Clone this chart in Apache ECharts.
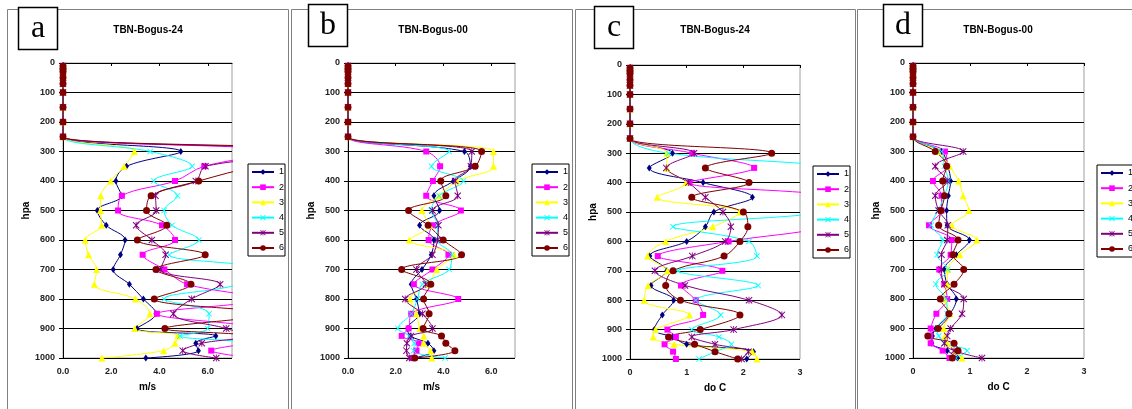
<!DOCTYPE html>
<html>
<head>
<meta charset="utf-8">
<script src="https://cdn.jsdelivr.net/npm/echarts@6/dist/echarts.min.js"></script>
<style>
html, body { margin: 0; padding: 0; background: #fff; }
#chart_main { width: 1132px; height: 409px; }
</style>
</head>
<body>
<div id="chart_main"></div>
<script>
// pressure levels (hpa), top to bottom
let levels = [10, 20, 30, 50, 70, 100, 150, 200, 250, 300, 350, 400, 450, 500, 550, 600, 650, 700, 750, 800, 850, 900, 925, 950, 975, 1000];
let series_names = ['1', '2', '3', '4', '5', '6'];

// a: TBN-Bogus-24, m/s
let a_s1 = [0, 0, 0, 0, 0, 0, 0, 0, 0, 4.88, 2.63, 2.19, 2.42, 1.42, 1.79, 2.57, 2.38, 2.08, 2.75, 3.33, 3.85, 3.07, 6.33, 5.5, 5.61, 3.43];
let a_s2 = [0, 0, 0, 0, 0, 0, 0, 0, 0, 9.0, 5.85, 4.64, 2.44, 2.28, 4.1, 4.64, 3.3, 4.2, 5.14, 8.2, 3.89, 8.5, 8.8, 7.6, 6.14, 7.9];
let a_s3 = [0, 0, 0, 0, 0, 0, 0, 0, 0, 2.96, 2.53, 1.97, 1.57, 1.55, 1.6, 0.92, 1.06, 1.39, 1.3, 3.0, 3.6, 2.97, 4.75, 4.64, 4.17, 1.61];
let a_s4 = [0, 0, 0, 0, 0, 0, 0, 0, 0, 3.61, 5.35, 3.76, 4.74, 4.19, 4.52, 5.63, 4.4, 8.0, 7.3, 4.19, 6.05, 5.99, 4.85, 8.0, 8.5, 8.0];
let a_s5 = [0, 0, 0, 0, 0, 0, 0, 0, 0, 11.0, 5.9, 5.5, 3.83, 3.86, 3.03, 3.68, 4.25, 4.03, 6.51, 5.33, 4.57, 6.76, 7.6, 5.75, 4.96, 6.35];
let a_s6 = [0, 0, 0, 0, 0, 0, 0, 0, 0, 11.5, 8.0, 5.62, 3.65, 3.46, 4.3, 3.08, 5.89, 3.85, 5.3, 3.78, 8.5, 4.22, 8.0, 9.0, 8.5, 9.0];

// b: TBN-Bogus-00, m/s
let b_s1 = [0, 0, 0, 0, 0, 0, 0, 0, 0, 4.88, 5.13, 4.42, 3.6, 3.84, 3.0, 3.6, 3.49, 3.1, 2.65, 2.87, 2.98, 2.5, 2.61, 3.35, 3.6, 2.76];
let b_s2 = [0, 0, 0, 0, 0, 0, 0, 0, 0, 3.28, 3.86, 3.56, 3.28, 4.73, 3.57, 3.38, 4.21, 3.54, 2.76, 4.62, 2.65, 2.54, 2.25, 2.96, 2.87, 2.68];
let b_s3 = [0, 0, 0, 0, 0, 0, 0, 0, 0, 6.1, 6.1, 4.56, 3.82, 3.1, 3.43, 2.57, 4.45, 3.72, 3.38, 2.6, 2.87, 3.01, 3.18, 3.17, 3.47, 3.51];
let b_s4 = [0, 0, 0, 0, 0, 0, 0, 0, 0, 4.24, 3.5, 4.84, 3.82, 3.49, 3.75, 3.74, 4.35, 4.24, 3.12, 2.91, 2.65, 2.09, 2.57, 2.78, 2.75, 4.07];
let b_s5 = [0, 0, 0, 0, 0, 0, 0, 0, 0, 5.19, 5.15, 4.49, 4.6, 3.54, 3.79, 3.75, 3.54, 2.87, 3.26, 2.4, 3.12, 3.54, 2.64, 2.47, 2.45, 2.57];
let b_s6 = [0, 0, 0, 0, 0, 0, 0, 0, 0, 5.6, 5.33, 3.89, 4.1, 2.54, 3.36, 3.99, 4.76, 2.25, 3.47, 3.17, 3.4, 3.15, 3.92, 4.1, 4.48, 2.8];

// c: TBN-Bogus-24, do C
let c_s1 = [0, 0, 0, 0, 0, 0, 0, 0, 0, 0.75, 0.34, 1.29, 2.16, 1.48, 1.33, 1.0, 0.35, 0.65, 0.37, 0.77, 0.57, 0.43, 0.75, 1.0, 2.18, 2.06];
let c_s2 = [0, 0, 0, 0, 0, 0, 0, 0, 0, 1.1, 2.19, 1.05, 3.8, 4.0, 3.5, 1.74, 0.49, 1.63, 0.9, 1.16, 1.29, 0.66, 0.81, 0.61, 0.76, 0.81];
let c_s3 = [0, 0, 0, 0, 0, 0, 0, 0, 0, 0.65, 0.65, 0.99, 0.48, 1.94, 1.46, 0.63, 0.31, 0.66, 0.32, 0.25, 1.05, 0.45, 0.41, 0.78, 2.16, 2.24];
let c_s4 = [0, 0, 0, 0, 0, 0, 0, 0, 0, 0.68, 3.8, 4.5, 4.2, 3.5, 0.76, 2.1, 2.24, 0.85, 2.26, 1.16, 1.6, 1.09, 1.57, 1.79, 1.5, 1.22];
let c_s5 = [0, 0, 0, 0, 0, 0, 0, 0, 0, 1.13, 0.64, 1.03, 1.33, 1.64, 1.78, 1.68, 1.1, 0.44, 0.97, 2.1, 2.68, 1.83, 1.09, 1.5, 2.09, 1.97];
let c_s6 = [0, 0, 0, 0, 0, 0, 0, 0, 0, 2.5, 1.33, 2.1, 1.09, 2.0, 2.08, 1.94, 1.66, 0.76, 0.63, 0.89, 1.94, 1.24, 0.68, 1.14, 1.5, 1.9];

// d: TBN-Bogus-00, do C
let d_s1 = [0, 0, 0, 0, 0, 0, 0, 0, 0, 0.5, 0.61, 0.66, 0.62, 0.59, 0.6, 0.99, 0.76, 0.55, 0.6, 0.76, 0.65, 0.4, 0.34, 0.33, 0.6, 0.78];
let d_s2 = [0, 0, 0, 0, 0, 0, 0, 0, 0, 0.56, 0.6, 0.35, 0.5, 0.5, 0.28, 0.68, 0.66, 0.46, 0.55, 0.6, 0.41, 0.31, 0.3, 0.31, 0.52, 0.64];
let d_s3 = [0, 0, 0, 0, 0, 0, 0, 0, 0, 0.44, 0.64, 0.8, 0.88, 0.98, 0.68, 1.12, 0.82, 0.61, 0.6, 0.55, 0.65, 0.54, 0.56, 0.6, 0.75, 0.86];
let d_s4 = [0, 0, 0, 0, 0, 0, 0, 0, 0, 0.5, 0.55, 0.62, 0.55, 0.44, 0.32, 0.52, 0.42, 0.61, 0.4, 0.58, 0.6, 0.42, 0.45, 0.55, 0.95, 0.75];
let d_s5 = [0, 0, 0, 0, 0, 0, 0, 0, 0, 0.88, 0.39, 0.6, 0.39, 0.45, 0.61, 0.6, 0.5, 0.5, 0.55, 0.89, 0.86, 0.66, 0.6, 0.55, 0.72, 1.21];
let d_s6 = [0, 0, 0, 0, 0, 0, 0, 0, 0, 0.39, 0.59, 0.52, 0.55, 0.49, 0.45, 0.79, 0.7, 0.89, 0.72, 0.48, 0.63, 0.44, 0.26, 0.72, 0.79, 0.69];

// excel-like marker styles
let colors = ['#000080', '#FF00FF', '#FFFF00', '#00FFFF', '#800080', '#800000'];
let x_path = 'path://M0,1L1,0L5,4L9,0L10,1L6,5L10,9L9,10L5,6L1,10L0,9L4,5Z';
let star_path = 'path://M0,1L1,0L5,4L9,0L10,1L6,5L10,9L9,10L5,6L1,10L0,9L4,5Z M4.4,0L5.6,0L5.6,10L4.4,10Z';
let symbols = ['diamond', 'rect', 'triangle', x_path, star_path, 'circle'];
let sizes = [[5, 7], 6, 7, 6, 7, 7];

let panels = [
  { letter: 'a', title: 'TBN-Bogus-24', unit: 'm/s', xmax: 7, xint: 2, digits: 1,
    grid: [63, 63, 169, 295], legend: [248, 164], box: [7.5, 9.5, 281, 420], lbox: [18, 7], data: [a_s1, a_s2, a_s3, a_s4, a_s5, a_s6] },
  { letter: 'b', title: 'TBN-Bogus-00', unit: 'm/s', xmax: 7, xint: 2, digits: 1,
    grid: [348, 63, 167, 295], legend: [532, 164], box: [291.5, 9.5, 281, 420], lbox: [308, 4], data: [b_s1, b_s2, b_s3, b_s4, b_s5, b_s6] },
  { letter: 'c', title: 'TBN-Bogus-24', unit: 'do C', xmax: 3, xint: 1, digits: 0,
    grid: [630, 65, 170, 294], legend: [813, 166], box: [575.5, 9.5, 280, 420], lbox: [594, 6], data: [c_s1, c_s2, c_s3, c_s4, c_s5, c_s6] },
  { letter: 'd', title: 'TBN-Bogus-00', unit: 'do C', xmax: 3, xint: 1, digits: 0,
    grid: [913, 63, 171, 295], legend: [1097, 165], box: [857.5, 9.5, 300, 420], lbox: [883, 4], data: [d_s1, d_s2, d_s3, d_s4, d_s5, d_s6] }
];

/* serie generator: one line per profile */
function serie_func(gi, vals_list) {
  let serie = [];
  for (let i = 0; i < vals_list.length; i++) {
    let pts = [];
    for (let j = 0; j < levels.length; j++) {
      pts.push([vals_list[i][j], levels[j]]);
    }
    serie.push({
      name: series_names[i],
      type: 'line',
      xAxisIndex: gi,
      yAxisIndex: gi,
      data: pts,
      smooth: 0.35,
      clip: true,
      symbol: symbols[i],
      symbolSize: sizes[i],
      showAllSymbol: true,
      lineStyle: { color: colors[i], width: 1 },
      itemStyle: { color: colors[i] }
    });
  }
  return serie;
}

let grids = [], xAxes = [], yAxes = [], legends = [], series = [], graphics = [];

for (let i = 0; i < panels.length; i++) {
  let p = panels[i];
  grids.push({
    left: p.grid[0], top: p.grid[1], width: p.grid[2], height: p.grid[3],
    show: true, borderColor: '#a0a0a0', borderWidth: 1, backgroundColor: '#fff'
  });
  let digits = p.digits;
  let xmax = p.xmax;
  xAxes.push({
    gridIndex: i, type: 'value', min: 0, max: p.xmax, interval: p.xint,
    axisLine: { show: true, lineStyle: { color: '#000', width: 1 } },
    axisTick: { show: true, length: 3, lineStyle: { color: '#000' } },
    axisLabel: {
      fontSize: 9, fontWeight: 'bold', color: '#222', margin: 9, showMaxLabel: xmax === 3,
      formatter: function (v) { return v.toFixed(digits); }
    },
    splitLine: { show: false },
    name: p.unit, nameLocation: 'middle', nameGap: 24,
    nameTextStyle: { fontWeight: 'bold', fontSize: 10, color: '#000' }
  });
  yAxes.push({
    gridIndex: i, type: 'value', inverse: true, min: 0, max: 1000, interval: 100,
    axisLine: { show: true, lineStyle: { color: '#000', width: 1 } },
    axisTick: { show: true, length: 4, lineStyle: { color: '#000' } },
    axisLabel: {
      fontSize: 9, fontWeight: 'bold', color: '#222', margin: 8,
      formatter: function (v) { return String(v); }
    },
    splitLine: { show: true, showMinLine: false, lineStyle: { color: '#000', width: 1 } },
    name: 'hpa', nameLocation: 'middle', nameGap: 29, nameRotate: 90,
    nameTextStyle: { fontWeight: 'bold', fontSize: 10, color: '#000' }
  });
  legends.push({
    data: series_names, orient: 'vertical', left: p.legend[0], top: p.legend[1],
    itemWidth: 22, itemHeight: 7, itemGap: 5.2,
    padding: [3, 1, 3, 3], borderColor: '#000', borderWidth: 1, backgroundColor: '#fff',
    textStyle: { fontSize: 9, color: '#000', lineHeight: 10 },
    selectedMode: false
  });
  series = series.concat(serie_func(i, p.data));

  // panel frame, letter box and title
  graphics.push({
    type: 'rect', z: -10, silent: true,
    shape: { x: p.box[0], y: p.box[1], width: p.box[2], height: p.box[3] },
    style: { fill: 'none', stroke: '#808080', lineWidth: 1 }
  });
  graphics.push({
    type: 'rect', z: 10, silent: true,
    shape: { x: p.lbox[0] + 0.5, y: p.lbox[1] + 0.5, width: 39, height: 42 },
    style: { fill: '#fff', stroke: '#000', lineWidth: 1.5 }
  });
  graphics.push({
    type: 'text', z: 11, silent: true,
    x: p.lbox[0] + 20, y: p.lbox[1] + 22,
    style: { text: p.letter, font: '32px "Liberation Serif"', fill: '#000', align: 'center', verticalAlign: 'middle' }
  });
  graphics.push({
    type: 'text', z: 11, silent: true,
    x: p.grid[0] + 85, y: 30,
    style: { text: p.title, font: 'bold 10px "Liberation Sans"', fill: '#000', align: 'center', verticalAlign: 'middle' }
  });
}

let myChart = echarts.init(document.getElementById('chart_main'));
let option = {
  animation: false,
  backgroundColor: '#fff',
  textStyle: { fontFamily: '"Liberation Sans", Arial, sans-serif' },
  grid: grids,
  xAxis: xAxes,
  yAxis: yAxes,
  legend: legends,
  series: series,
  graphic: graphics
};
myChart.setOption(option);
</script>
</body>
</html>
